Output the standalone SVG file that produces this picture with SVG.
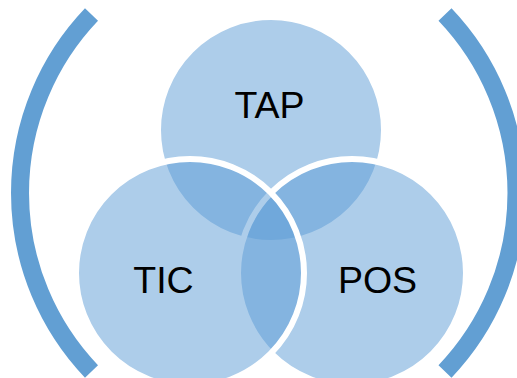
<svg xmlns="http://www.w3.org/2000/svg" width="517" height="378" viewBox="0 0 517 378">
  <style>
    .bracket { fill: none; stroke: #629fd3; stroke-width: 18; stroke-linecap: butt; }
    .venn { fill: #5b9bd5; fill-opacity: 0.5; stroke: #ffffff; stroke-width: 6; }
    .label { font-family: "Liberation Sans", Arial, sans-serif; font-size: 37.5px; fill: #000000; text-anchor: middle; }
  </style>
  <rect width="517" height="378" fill="#ffffff"/>
  <g id="brackets">
    <path class="bracket" d="M91.5,14.5 A258.6,258.6 0 0 0 91.5,371.5"/>
    <path class="bracket" d="M445,14.5 A258.6,258.6 0 0 1 445,371.5"/>
  </g>
  <g id="node-tap">
    <circle class="venn" cx="271" cy="130" r="113"/>
  </g>
  <g id="node-pos">
    <circle class="venn" cx="352" cy="273" r="114"/>
  </g>
  <g id="node-tic">
    <circle class="venn" cx="190" cy="273" r="114"/>
  </g>
  <g id="labels">
    <text class="label" x="269.5" y="118">TAP</text>
    <text class="label" x="163.5" y="293">TIC</text>
    <text class="label" x="377.5" y="293">POS</text>
  </g>
</svg>
